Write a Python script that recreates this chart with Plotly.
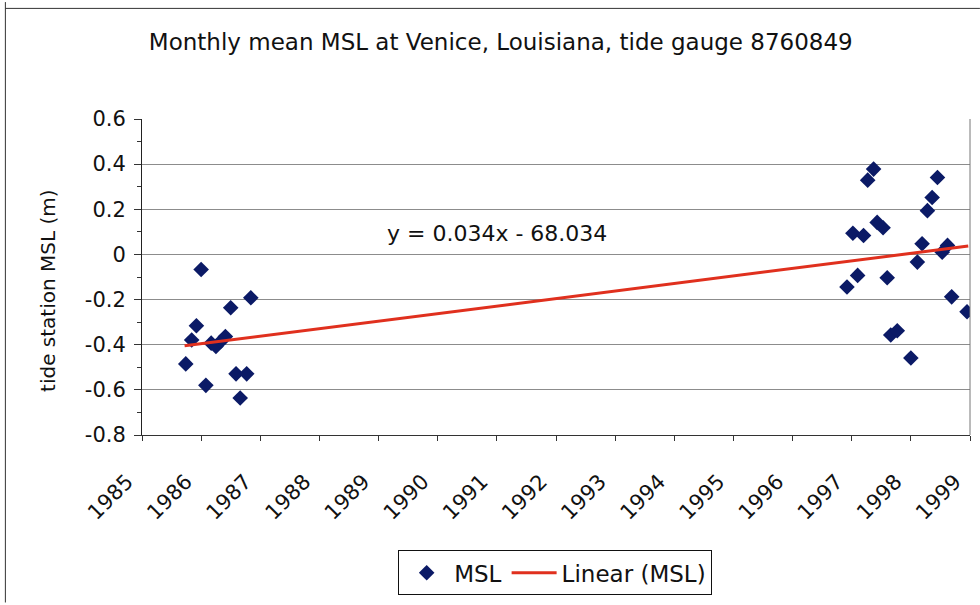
import plotly.graph_objects as go

# --- data ---
# early record (1985-1986)
msl_year_a = [1985.74, 1985.84, 1985.92, 1986.00, 1986.08, 1986.17, 1986.25, 1986.33,
              1986.41, 1986.50, 1986.59, 1986.66, 1986.77, 1986.84]
msl_a = [-0.485, -0.379, -0.316, -0.067, -0.580, -0.393, -0.408, -0.386,
         -0.364, -0.236, -0.529, -0.636, -0.529, -0.192]

# late record (1996-1998)
msl_year_b = [1996.92, 1997.02, 1997.10, 1997.20, 1997.27, 1997.37, 1997.43, 1997.53,
              1997.60, 1997.66, 1997.77, 1998.00, 1998.11, 1998.19, 1998.28, 1998.36,
              1998.45, 1998.53, 1998.62, 1998.69, 1998.95]
msl_b = [-0.144, 0.094, -0.093, 0.084, 0.329, 0.378, 0.142, 0.118,
         -0.103, -0.357, -0.338, -0.459, -0.034, 0.047, 0.194, 0.252,
         0.341, 0.010, 0.040, -0.188, -0.254]

msl_year = msl_year_a + msl_year_b
msl = msl_a + msl_b

# linear trend end points as drawn
trend_year = [1985.72, 1998.97]
trend_msl = [-0.405, 0.037]

year_ticks = list(range(1985, 2000))
msl_ticks = [0.6, 0.4, 0.2, 0, -0.2, -0.4, -0.6, -0.8]
msl_tick_text = ["0.6", "0.4", "0.2", "0", "-0.2", "-0.4", "-0.6", "-0.8"]

FONT = "DejaVu Sans, Liberation Sans, Arial, sans-serif"

fig = go.Figure()

fig.add_trace(go.Scatter(
    x=msl_year, y=msl, mode="markers", name="MSL",
    marker=dict(symbol="diamond", size=12, color="#0b1a66"),
))
fig.add_trace(go.Scatter(
    x=trend_year, y=trend_msl, mode="lines", name="Linear (MSL)",
    line=dict(color="#e0301e", width=3),
))

fig.add_annotation(
    x=1991.0, y=0.093, xref="x", yref="y",
    text="y = 0.034x - 68.034", showarrow=False,
    font=dict(size=22, color="#111"),
)

# y axis title, placed as in the reference (a bit below centre)
fig.add_annotation(
    x=-0.1135, y=0.456, xref="paper", yref="paper",
    xanchor="center", yanchor="middle",
    text="tide station MSL (m)", textangle=-90, showarrow=False,
    font=dict(size=20, color="#111"),
)

# partial outer frame of the scanned chart
fig.add_shape(type="line", xref="paper", yref="paper",
              x0=-0.165, x1=-0.165, y0=1.37, y1=-0.53,
              line=dict(color="#333", width=1))
fig.add_shape(type="line", xref="paper", yref="paper",
              x0=-0.165, x1=1.012, y0=1.35, y1=1.35,
              line=dict(color="#333", width=1))

fig.update_layout(
    width=980, height=605,
    margin=dict(l=142, r=10, t=119, b=168),
    paper_bgcolor="white", plot_bgcolor="white",
    font=dict(family=FONT, size=20, color="#111"),
    title=dict(
        text="Monthly mean MSL at Venice, Louisiana, tide gauge 8760849",
        x=0.511, xanchor="center", y=0.93, yanchor="middle",
        font=dict(size=23, color="#111"),
    ),
    showlegend=True,
    legend=dict(
        orientation="h", x=0.499, xanchor="center", y=-0.365, yanchor="top",
        bordercolor="#111", borderwidth=1, bgcolor="white",
        font=dict(size=23), itemwidth=45, tracegroupgap=0,
    ),
    xaxis=dict(
        range=[1985, 1999], tickvals=year_ticks, tickangle=-45,
        showgrid=False, zeroline=False, automargin=False,
        showline=True, linecolor="#333", linewidth=1, mirror=False,
        ticks="outside", ticklen=5, tickcolor="#333",
        ticklabelstandoff=20, ticklabelshift=-15,
        tickfont=dict(size=21),
    ),
    yaxis=dict(
        range=[-0.8, 0.6], tickvals=msl_ticks, ticktext=msl_tick_text,
        showgrid=True, gridcolor="#8c8c8c", gridwidth=1, zeroline=False,
        showline=True, linecolor="#222", linewidth=1, automargin=False,
        ticks="outside", ticklen=7, tickcolor="#333", ticklabelstandoff=4,
        minor=dict(dtick=0.1, tick0=0, ticks="outside", ticklen=4, tickcolor="#333", showgrid=False),
        tickfont=dict(size=21),
    ),
)

# right border of plot area
fig.add_shape(type="line", xref="paper", yref="paper",
              x0=1, x1=1, y0=0, y1=1, line=dict(color="#777", width=1))

fig.write_html(
    "out.html",
    config={"displayModeBar": False},
    post_script="document.body.style.margin='0';document.body.style.overflow='hidden';",
)
